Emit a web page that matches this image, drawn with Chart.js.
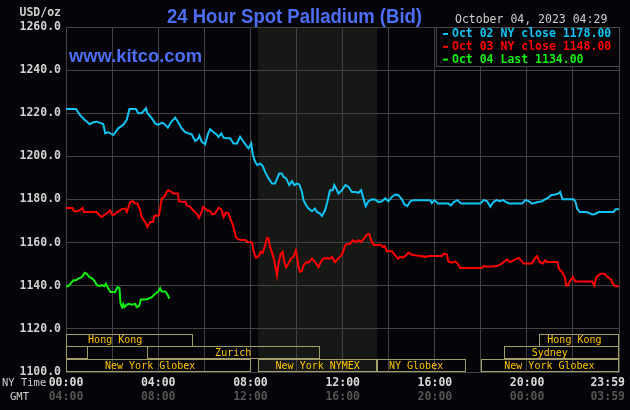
<!DOCTYPE html>
<html>
<head>
<meta charset="utf-8">
<script src="https://cdn.jsdelivr.net/npm/chart.js@4.4.0/dist/chart.umd.min.js"></script>
<style>
  html, body { margin: 0; padding: 0; background: #050408; }
</style>
</head>
<body>
<canvas id="myChart" width="630" height="410"></canvas>
<script>
/* 24 hour spot palladium, kitco style */

// minutes after 00:00 NY time, and bid prices
const oct02Times = [
  0,26,36,49,62,71,80,97,102,110,
  123,136,149,158,165,182,188,197,208,212,
  223,232,240,249,255,265,273,284,292,301,
  310,318,327,336,343,347,353,362,369,375,
  384,392,397,404,410,418,427,436,445,453,
  462,471,475,482,486,492,498,505,512,518,
  527,536,544,555,562,566,573,581,588,594,
  601,607,614,618,625,631,640,648,653,661,
  666,674,680,687,694,698,703,709,718,727,
  735,744,753,761,768,774,780,787,796,805,
  813,822,831,839,848,857,865,874,881,888,
  896,904,948,952,959,968,995,1002,1009,1019,
  1028,1078,1087,1096,1104,1111,1120,1128,1137,1148,
  1154,1187,1195,1204,1213,1228,1239,1243,1256,1262,
  1273,1282,1286,1292,1321,1326,1330,1337,1352,1360,
  1369,1377,1386,1425,1430,1439
];
const oct02Values = [
  1222,1222,1219.2,1216.9,1214.9,1215.8,1216.1,1215,1210.7,1211.2,
  1209.9,1213,1214.6,1216.9,1222,1222,1220,1220,1222.3,1220,
  1217.7,1215.3,1214.6,1215.6,1215.2,1213.3,1215.8,1218,1215.8,1213,
  1211.2,1210.7,1210.2,1207.1,1208,1209.6,1206.8,1205.6,1210.2,1212.6,
  1211.2,1210.2,1209,1210.7,1208.7,1208.4,1208.4,1206,1206,1209.1,
  1206.8,1204.5,1203.7,1206,1201,1197.5,1195.9,1196.7,1195.5,1192.8,
  1189.8,1187.4,1187.4,1192.1,1192,1190.5,1189.8,1186.7,1188.5,1186.7,
  1187.4,1187,1183.5,1179.7,1177.3,1175.8,1174.6,1175.8,1174.2,1173.5,
  1172.4,1175,1178.8,1184.3,1184.3,1186.7,1185.1,1182.8,1184.3,1186.7,
  1185.9,1183.5,1183.5,1183.1,1184.3,1180.5,1176.9,1179.2,1180.1,1179.9,
  1178.8,1179.2,1180.5,1179.2,1181.2,1182.3,1182,1180.1,1177.7,1176.9,
  1179.2,1179.7,1179.7,1178.4,1179.7,1178.1,1178.1,1177.3,1178.8,1179.7,
  1178.1,1178.1,1179.7,1179.2,1176.6,1178.6,1179.7,1179.2,1179.7,1178.6,
  1178.1,1178.1,1179.7,1179.2,1178.1,1178.8,1179.2,1179.7,1181,1182,
  1182.3,1182.8,1183.5,1180.1,1180.1,1178.8,1175.8,1174.2,1174.2,1173.9,
  1173.1,1173.3,1174.2,1174.2,1175.5,1175.5
];

const oct03Times = [
  0,17,21,29,36,43,47,80,87,93,
  99,106,115,119,123,132,145,154,158,167,
  174,180,186,193,197,206,212,219,226,230,
  242,245,249,256,262,266,275,279,291,294,
  305,311,314,323,331,340,346,353,357,366,
  375,381,388,397,404,410,416,423,427,433,
  438,442,449,458,466,473,484,490,495,501,
  507,512,518,523,527,531,538,544,549,553,
  559,564,568,573,579,585,592,598,601,605,
  609,614,618,625,631,640,648,657,663,670,
  679,687,692,700,709,718,727,734,740,746,
  753,761,768,777,783,789,794,800,809,818,
  824,829,835,848,855,864,870,876,883,891,
  900,913,935,943,961,978,984,991,995,1004,
  1013,1019,1026,1082,1088,1095,1121,1130,1139,1148,
  1154,1161,1169,1178,1184,1191,1213,1217,1221,1226,
  1232,1241,1247,1252,1279,1283,1291,1298,1302,1306,
  1312,1319,1325,1369,1375,1380,1391,1401,1410,1418,
  1424,1430,1439
];
const oct03Values = [
  1176.1,1176.1,1174.6,1174.6,1175,1176.1,1174.2,1174.2,1172.7,1171.9,
  1172.7,1173.5,1175,1173.2,1172.7,1174,1175.5,1175.8,1174.2,1178.8,
  1179.2,1178.1,1178.1,1175,1171.9,1169.6,1167.3,1169.6,1169.6,1172.4,
  1172.7,1175.8,1180.5,1181.2,1183.5,1184.3,1183.5,1182.8,1182.8,1179.2,
  1178.8,1179,1177.3,1176.6,1175,1173.5,1171.4,1174.2,1176.6,1175,
  1174.6,1173,1173.5,1176.1,1175.5,1171.9,1174,1173.5,1171.2,1168.8,
  1165.7,1162.6,1161.5,1161.1,1161.3,1160.3,1160,1154.9,1152.9,1153.8,
  1155.7,1155.3,1158.8,1162.2,1162,1158,1154.4,1149.8,1144.8,1150.3,
  1154.9,1155.7,1151,1148.7,1150.3,1152.6,1153.4,1156.4,1154,1148.7,
  1146.4,1147,1149.5,1151,1150.7,1152.6,1151,1148.7,1151,1152.6,
  1152.9,1152.6,1153.4,1151,1152.6,1154.4,1158.8,1159.5,1159.5,1161.1,
  1160.3,1161.1,1160.3,1162.2,1163.7,1164,1161.1,1159.1,1158.8,1159.1,
  1158,1158.5,1156,1156,1154.4,1152.6,1153.4,1153,1153.8,1155.3,
  1154.4,1154,1153.4,1153.8,1153.8,1153.8,1154.9,1154.5,1151.3,1150.7,
  1151.3,1150.3,1148.2,1148.2,1149.2,1148.8,1149.2,1149.8,1151,1152.2,
  1151,1151.4,1152.2,1152.9,1151.8,1150.3,1150.3,1151.8,1152.9,1153.8,
  1151,1150.3,1151.8,1151,1151,1147.8,1146.3,1144,1140.1,1140,
  1142.4,1144,1142,1142,1140.1,1144,1145.6,1145.6,1144,1142.9,
  1140.5,1139.8,1139.8
];

const oct04Times = [
  0,6,12,19,26,32,41,49,54,61,
  67,73,80,87,93,100,104,110,116,128,
  134,139,142,146,149,152,158,165,171,180,
  184,190,195,206,214,223,232,240,245,249,
  256,260,265,269
];
const oct04Values = [
  1139.8,1139.8,1141,1142.5,1142.5,1143.3,1144,1146,1145.5,1144,
  1143.5,1142.5,1140.5,1139.8,1140.3,1139.8,1141,1138.7,1137.1,1137.1,
  1139.4,1139,1131.6,1130.1,1131.6,1130.1,1131.2,1131.6,1131.2,1131.6,
  1130.1,1130.6,1133.6,1133.6,1134,1134.7,1136.3,1137.3,1138.9,1137.3,
  1137.3,1137.1,1135.6,1134
];

const legendLabels = ['Oct 02 NY close 1178.00', 'Oct 03 NY close 1148.00', 'Oct 04 Last 1134.00'];
const lineColors = ['#10c4f4', '#ff0000', '#12f012'];

// bottom axis
const tickMinutes = [0, 240, 480, 720, 960, 1200, 1439];
const nyTimeLabels = ['00:00', '04:00', '08:00', '12:00', '16:00', '20:00', '23:59'];
const gmtLabels = ['04:00', '08:00', '12:00', '16:00', '20:00', '00:00', '03:59'];

// market sessions (row 0 = top), times in minutes
const sessionNames = ['', 'Hong Kong', 'Zurich', 'New York Globex', 'New York NYMEX', 'NY Globex', 'New York Globex', 'Sydney', 'Hong Kong'];
const sessionRows  = [1, 0, 1, 2, 2, 2, 2, 1, 0];
const sessionStart = [0, 0, 210, 0, 500, 810, 1080, 1140, 1230];
const sessionEnd   = [57, 330, 660, 482, 810, 1040, 1439, 1439, 1439];
const sessionText  = [0, 128, 435, 219, 655, 911, 1258, 1259, 1323];

// NYMEX floor hours, shaded
const shadeFrom = 500;
const shadeTo = 810;

const MONO = '"DejaVu Sans Mono", "Liberation Mono", monospace';
const SANS = '"Liberation Sans", Arial, sans-serif';

function fitText(ctx, text, x, y, w) {
  // squeeze text horizontally into w pixels, x is the left edge
  const m = ctx.measureText(text).width;
  ctx.save();
  ctx.translate(x, y);
  ctx.scale(w / m, 1);
  ctx.textAlign = 'left';
  ctx.fillText(text, 0, 0);
  ctx.restore();
}

const kitcoDraw = {
  id: 'kitcoDraw',
  beforeDraw(chart) {
    const ctx = chart.ctx, a = chart.chartArea, xs = chart.scales.x;
    ctx.save();
    ctx.fillStyle = '#050408';
    ctx.fillRect(0, 0, chart.width, chart.height);
    const x0 = xs.getPixelForValue(shadeFrom), x1 = xs.getPixelForValue(shadeTo);
    ctx.fillStyle = '#151815';
    ctx.fillRect(x0, a.top, x1 - x0, a.bottom - a.top);
    ctx.restore();
  },
  afterDatasetsDraw(chart) {
    const ctx = chart.ctx, a = chart.chartArea, xs = chart.scales.x;
    const rowH = 12.8;
    ctx.save();
    ctx.strokeStyle = '#a39d6a';
    ctx.lineWidth = 1;
    ctx.fillStyle = '#ffc400';
    ctx.font = '10px ' + MONO;
    ctx.textAlign = 'center';
    ctx.textBaseline = 'middle';
    for (let i = 0; i < sessionNames.length; i++) {
      const top = a.bottom - rowH * (3 - sessionRows[i]);
      const x0 = Math.round(xs.getPixelForValue(sessionStart[i])) + 0.5;
      const x1 = Math.round(xs.getPixelForValue(sessionEnd[i])) - 0.5;
      ctx.strokeRect(x0, Math.round(top) + 0.5, x1 - x0, Math.round(rowH) - 1);
      if (sessionNames[i]) {
        ctx.fillText(sessionNames[i], xs.getPixelForValue(sessionText[i]), top + rowH / 2 + 0.5);
      }
    }
    ctx.restore();
  },
  afterDraw(chart) {
    const ctx = chart.ctx, a = chart.chartArea, xs = chart.scales.x;
    ctx.save();

    // title + site
    ctx.fillStyle = '#4d6ef5';
    ctx.textBaseline = 'alphabetic';
    ctx.font = 'bold 20px ' + SANS;
    fitText(ctx, '24 Hour Spot Palladium (Bid)', 167, 23, 255);
    ctx.font = 'bold 18px ' + SANS;
    fitText(ctx, 'www.kitco.com', 69, 61.5, 133);

    // units and date
    ctx.textBaseline = 'middle';
    ctx.fillStyle = '#cfcfcf';
    ctx.font = 'bold 11.5px ' + MONO;
    ctx.textAlign = 'right';
    ctx.fillText('USD/oz', 61, 13);
    ctx.font = '11.5px ' + MONO;
    ctx.textAlign = 'left';
    ctx.fillText('October 04, 2023 04:29', 455, 20);

    // legend box
    const lx = 436, ly = a.top, lw = a.right - 436, lh = 39;
    ctx.fillStyle = '#050408';
    ctx.fillRect(lx, ly, lw, lh);
    ctx.strokeStyle = '#4a4a4a';
    ctx.lineWidth = 1;
    ctx.strokeRect(lx + 0.5, ly + 0.5, lw, lh);
    ctx.font = 'bold 11.5px ' + MONO;
    for (let i = 0; i < legendLabels.length; i++) {
      const ty = ly + 7 + i * 12.8;
      ctx.fillStyle = lineColors[i];
      ctx.fillRect(443, ty - 1, 5, 2);
      ctx.fillText(legendLabels[i], 452, ty);
    }

    // bottom time labels
    ctx.fillStyle = '#cfcfcf';
    ctx.font = '10.5px ' + MONO;
    ctx.textAlign = 'left';
    ctx.fillText('NY Time', 2, 383);
    ctx.fillText('GMT', 10, 397);
    ctx.font = 'bold 11.5px ' + MONO;
    for (let i = 0; i < tickMinutes.length; i++) {
      const last = i === tickMinutes.length - 1;
      const px = last ? chart.width - 5 : xs.getPixelForValue(tickMinutes[i]);
      ctx.textAlign = last ? 'right' : 'center';
      ctx.fillStyle = '#dadada';
      ctx.fillText(nyTimeLabels[i], px, 383);
      ctx.fillStyle = '#555555';
      ctx.fillText(gmtLabels[i], px, 397);
    }
    ctx.restore();
  }
};

function series(times, values) {
  return times.map((t, i) => ({ x: t, y: values[i] }));
}

const data = {
  datasets: [
    { label: legendLabels[0], data: series(oct02Times, oct02Values), borderColor: lineColors[0] },
    { label: legendLabels[1], data: series(oct03Times, oct03Values), borderColor: lineColors[1] },
    { label: legendLabels[2], data: series(oct04Times, oct04Values), borderColor: lineColors[2] }
  ]
};

const gridColor = '#424242';

const config = {
  type: 'line',
  data: data,
  options: {
    responsive: false,
    animation: false,
    parsing: false,
    layout: { padding: { top: 27, right: 11, bottom: 38, left: 0 } },
    elements: {
      line: { borderWidth: 2, tension: 0 },
      point: { radius: 0 }
    },
    plugins: {
      legend: { display: false },
      title: { display: false },
      tooltip: { enabled: false }
    },
    scales: {
      x: {
        type: 'linear',
        min: 0,
        max: 1439,
        ticks: { display: false, stepSize: 120 },
        grid: { color: gridColor, drawTicks: false },
        border: { color: gridColor },
        afterFit: s => { s.height = 0; }
      },
      y: {
        min: 1100,
        max: 1260,
        ticks: {
          stepSize: 20,
          padding: 5,
          color: '#d2d2d2',
          font: { family: MONO, size: 11.5, weight: 'bold' },
          callback: v => v.toFixed(1)
        },
        grid: { color: gridColor, drawTicks: false },
        border: { color: gridColor },
        afterFit: s => { s.width = 66; }
      }
    }
  },
  plugins: [kitcoDraw]
};

const myChart = new Chart(document.getElementById('myChart'), config);
</script>
</body>
</html>
